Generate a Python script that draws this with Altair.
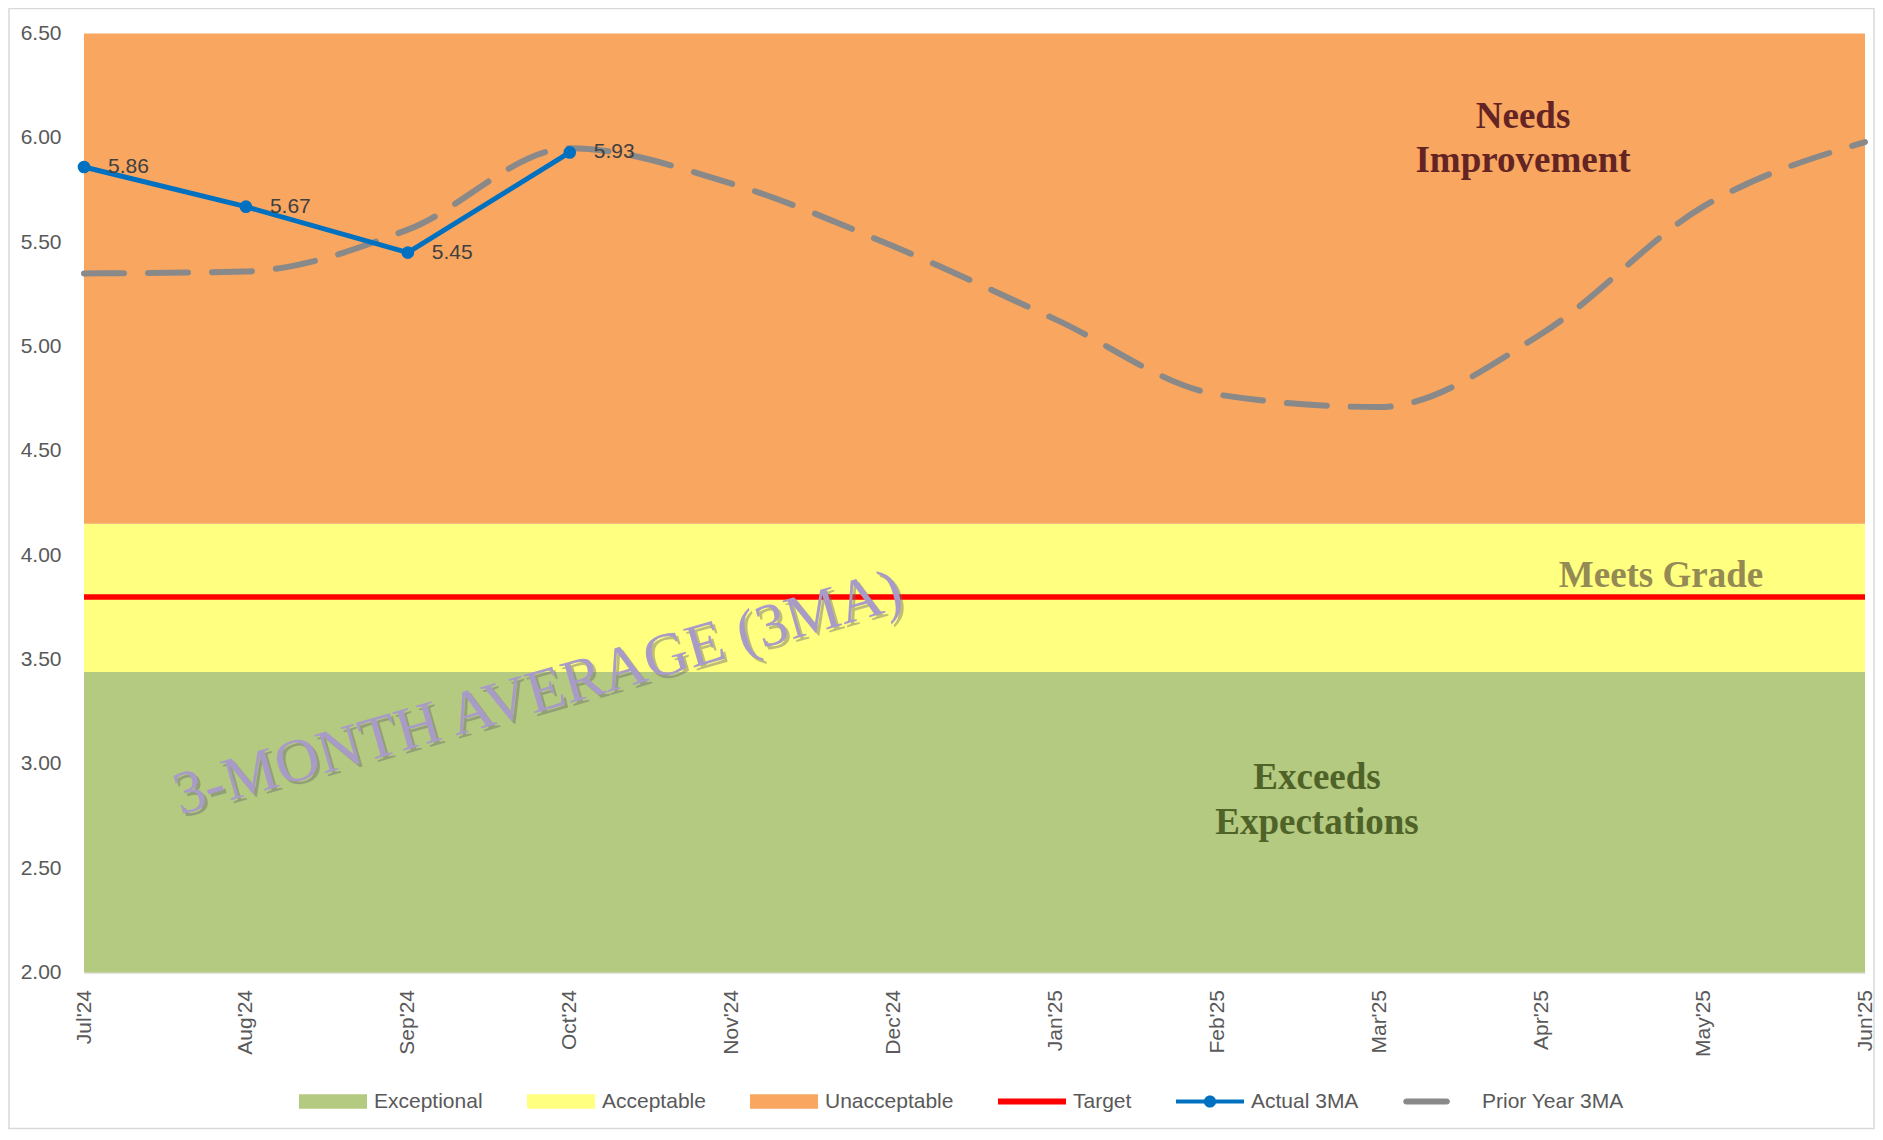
import altair as alt
import pandas as pd

# ---------------- data ----------------
months = ["Jul'24", "Aug'24", "Sep'24", "Oct'24", "Nov'24", "Dec'24",
          "Jan'25", "Feb'25", "Mar'25", "Apr'25", "May'25", "Jun'25"]
actual_months = ["Jul'24", "Aug'24", "Sep'24", "Oct'24"]
actual_3ma = [5.86, 5.67, 5.45, 5.93]
prior_year_3ma = [5.35, 5.36, 5.56, 5.95, 5.78, 5.48, 5.13, 4.77, 4.71, 5.06, 5.67, 5.98]
target = [3.80, 3.80, 3.80, 3.80, 3.80, 3.80, 3.80, 3.80, 3.80, 3.80, 3.80, 3.80]
band_names = ["Exceptional", "Acceptable", "Unacceptable"]
band_low = [2.00, 3.44, 4.15]
band_high = [3.44, 4.15, 6.50]
y_ticks = [2.00, 2.50, 3.00, 3.50, 4.00, 4.50, 5.00, 5.50, 6.00, 6.50]
series_names = ["Exceptional", "Acceptable", "Unacceptable", "Target", "Actual 3MA", "Prior Year 3MA"]

# ---------------- styles ----------------
C_GREEN, C_YELLOW, C_ORANGE = "#B3CA80", "#FFFF80", "#F8A660"
C_RED, C_BLUE, C_GRAY = "#FF0000", "#0070C0", "#898989"
band_colors = [C_GREEN, C_YELLOW, C_ORANGE]
series_colors = [C_GREEN, C_YELLOW, C_ORANGE, C_RED, C_BLUE, C_GRAY]
rect_path = "M-1,-0.21H1V0.21H-1Z"
series_shapes = [
    rect_path, rect_path, rect_path,
    "M-1,-0.09H1V0.09H-1Z",
    "M-1,-0.06H1V0.06H-1Z M0.18,0 A0.18,0.18 0 1,1 -0.18,0 A0.18,0.18 0 1,1 0.18,0Z",
    "M-1.02,-0.09H0.17A0.09,0.09 0 0,1 0.17,0.09H-1.02A0.09,0.09 0 0,1 -1.02,-0.09Z",
]
FONT = "Liberation Sans"
LABEL_C = "#595959"
W, H = 1781, 939

bands_df = pd.DataFrame({"band": band_names, "low": band_low, "high": band_high})
actual_df = pd.DataFrame({"month": actual_months, "value": actual_3ma})
prior_df = pd.DataFrame({"month": months, "value": prior_year_3ma})
target_df = pd.DataFrame({"month": months, "value": target})
legend_df = pd.DataFrame({"series": series_names})

x_scale = alt.Scale(type="point", domain=months, padding=0)
y_scale = alt.Scale(domain=[2.0, 6.5], nice=False, zero=False)
X_AX = alt.Axis(title=None, labelAngle=-90, labelFontSize=21, labelColor=LABEL_C, labelFont=FONT,
                ticks=False, domainColor="#D9D9D9", domainWidth=1.5, labelPadding=17, grid=False)
Y_AX = alt.Axis(title=None, values=y_ticks, format=".2f", labelFontSize=21, labelColor=LABEL_C,
                labelFont=FONT, ticks=False, domain=False, grid=False, labelPadding=23)


def X(field="month"):
    return alt.X(f"{field}:N", scale=x_scale, axis=X_AX, sort=months)


def Y(field="value"):
    return alt.Y(f"{field}:Q", scale=y_scale, axis=Y_AX)


bands = alt.Chart(bands_df).mark_rect().encode(
    y=Y("low"), y2="high",
    fill=alt.Fill("band:N", scale=alt.Scale(domain=band_names, range=band_colors), legend=None),
)

target_line = alt.Chart(target_df).mark_line(color=C_RED, strokeWidth=5.5).encode(x=X(), y=Y())

prior_line = alt.Chart(prior_df).mark_line(
    color=C_GRAY, strokeWidth=6, strokeDash=[40, 24], strokeCap="round", interpolate="monotone"
).encode(x=X(), y=Y())

actual_line = alt.Chart(actual_df).mark_line(
    color=C_BLUE, strokeWidth=5,
    point=alt.OverlayMarkDef(filled=True, size=160, color=C_BLUE, opacity=1)
).encode(x=X(), y=Y())

actual_labels = alt.Chart(actual_df).mark_text(
    align="left", baseline="middle", dx=24, fontSize=21, font=FONT, color="#404040"
).encode(x=X(), y=Y(), text=alt.Text("value:Q", format=".2f"))

one = alt.Data(values=[{"a": 1}])


def note(text, x, y, color, size=37, line_h=44):
    return alt.Chart(one).mark_text(
        text=text, font="Liberation Serif", fontWeight="bold", fontSize=size, color=color,
        align="center", baseline="alphabetic", lineHeight=line_h
    ).encode(x=alt.value(x), y=alt.value(y))


needs = note(["Needs", "Improvement"], 1439, 94.5, "#632423")
meets = note("Meets Grade", 1577, 553, "#948A54")
exceeds = note(["Exceeds", "Expectations"], 1233, 755.5, "#4F6228", line_h=45)

wm_shadow = alt.Chart(one).mark_text(
    text="3-MONTH AVERAGE (3MA)", font="Liberation Serif", fontSize=61, angle=344,
    color="#6E6E6E", opacity=0.45, align="center", baseline="middle"
).encode(x=alt.value(457), y=alt.value(663))
watermark = alt.Chart(one).mark_text(
    text="3-MONTH AVERAGE (3MA)", font="Liberation Serif", fontSize=61, angle=344,
    color="#A99BC7", align="center", baseline="middle"
).encode(x=alt.value(454), y=alt.value(660))

leg = alt.Legend(
    title=None, orient="none", legendX=215, legendY=1034, direction="horizontal", columns=6,
    symbolSize=4624, symbolStrokeWidth=0, symbolOpacity=1, labelFontSize=21, labelFont=FONT,
    labelColor=LABEL_C, labelOffset=7, columnPadding=44,
)
legend_layer = alt.Chart(legend_df).mark_point(filled=True, opacity=0, size=1).encode(
    x=alt.value(0), y=alt.value(0),
    color=alt.Color("series:N", scale=alt.Scale(domain=series_names, range=series_colors), legend=leg),
    shape=alt.Shape("series:N", scale=alt.Scale(domain=series_names, range=series_shapes), legend=leg),
)

border = alt.Chart(one).mark_rect(filled=False, stroke="#D9D9D9", strokeWidth=1.5, clip=False).encode(
    x=alt.value(-75), x2=alt.value(W + 9), y=alt.value(-25), y2=alt.value(H + 156)
)

chart = alt.layer(
    bands, target_line, prior_line, actual_line, actual_labels,
    needs, meets, exceeds, wm_shadow, watermark, legend_layer, border
).properties(
    width=W, height=H,
    autosize=alt.AutoSizeParams(type="none"),
    padding={"left": 76, "top": 25.5, "right": 10, "bottom": 158},
    background="white",
).configure_view(stroke=None)

chart.save("out.html", embed_options={"renderer": "svg", "actions": False})
